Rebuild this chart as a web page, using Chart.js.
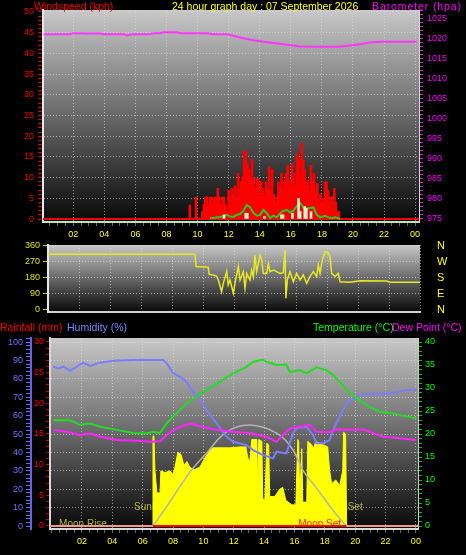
<!DOCTYPE html>
<html>
<head>
<meta charset="utf-8">
<title>24 hour graph</title>
<script src="https://cdn.jsdelivr.net/npm/chart.js@4.4.1/dist/chart.umd.min.js"></script>
<style>
  html, body { margin: 0; padding: 0; background: #000; }
  body { position: relative; width: 466px; height: 555px; overflow: hidden; font-family: "Liberation Sans", Arial, sans-serif; }
  canvas { position: absolute; left: 0; }
  .title { position: absolute; font-size: 10.5px; line-height: 12px; white-space: nowrap; }
</style>
</head>
<body>
<canvas id="windChart" width="466" height="240" style="top:0"></canvas>
<canvas id="dirChart" width="466" height="90" style="top:235px"></canvas>
<canvas id="tempChart" width="466" height="235" style="top:320px"></canvas>

<div class="title" style="left:34px; top:0; color:#ff0000">Windspeed (kph)</div>
<div class="title" style="left:172px; top:0; color:#ffff00">24 hour graph day : 07 September 2026</div>
<div class="title" style="left:372px; top:0; color:#ff00ff; letter-spacing:0.9px">Barometer (hpa)</div>
<div class="title" style="left:0; top:321px; color:#ff0000">Rainfall (mm)</div>
<div class="title" style="left:67px; top:321px; color:#8080ff">Humidity (%)</div>
<div class="title" style="left:313px; top:321px; color:#00ff00">Temperature (°C)</div>
<div class="title" style="left:392px; top:321px; color:#ff00ff">Dew Point (°C)</div>

<script>
// ---------- top panel: wind speed + barometer ----------
const baroHours  = [0.09, 1.8, 2.0, 2.87, 3.73, 3.95, 5.23, 5.45, 5.87, 6.95, 7.16, 7.59, 7.8, 8.66, 8.88, 10.6, 11.02, 11.88, 12.31, 12.74, 13.38, 14.02, 14.67, 15.52, 16.17, 16.6, 17.67, 18.74, 19.17, 19.81, 20.46, 21.1, 21.74, 23.03, 24.1];
const baroValues = [1021.17, 1021.17, 1021.42, 1021.33, 1021.33, 1021.17, 1021.17, 1020.83, 1021.17, 1021.17, 1021.42, 1021.42, 1021.67, 1021.67, 1021.42, 1021.42, 1021.17, 1021.17, 1020.75, 1020.33, 1019.75, 1019.42, 1019.08, 1018.67, 1018.33, 1018.08, 1018.0, 1018.0, 1018.08, 1018.33, 1018.67, 1019.08, 1019.25, 1019.25, 1019.25];

// gusts, one bar every 6 minutes from 09:30
const gustStart = 9.5;
const gustStep = 0.1;
const gustValues = [
  3.4, 0, 0, 0, 5.3,
  0, 0, 0, 1.8, 3.5, 5.3, 5.3, 3.5, 5.3, 5.3,
  3.5, 5.3, 5.3, 7.4, 5.3, 3.5, 5.3, 5.3, 3.5, 1.8,
  7.0, 5.3, 7.4, 6.0, 8.0, 5.3, 11.0, 7.4, 9.0, 10.2,
  16.5, 16.3, 13.4, 12.0, 9.8, 14.4, 9.8, 7.4, 9.8, 9.8,
  5.8, 9.0, 7.4, 5.8, 9.0, 7.4, 12.6, 7.0, 12.0, 6.0,
  4.0, 5.4, 9.0, 8.0, 11.0, 7.0, 9.4, 11.0, 13.0, 8.0,
  9.5, 13.4, 11.0, 8.0, 16.0, 14.7, 10.0, 18.3, 14.2, 11.8,
  8.0, 9.4, 7.0, 13.0, 9.0, 11.0, 7.0, 8.6, 5.0, 6.0,
  3.8, 5.0, 9.0, 9.0, 7.0, 4.0, 5.4, 3.0, 7.4, 4.0,
  1.8, 1.8
];
const avgHours  = [10.8, 11.13, 11.45, 11.66, 11.88, 12.09, 12.31, 12.52, 12.74, 12.95, 13.17, 13.38, 13.59, 13.81, 14.02, 14.24, 14.45, 14.67, 14.88, 15.1, 15.42, 15.74, 15.95, 16.17, 16.38, 16.6, 16.7, 16.92, 17.13, 17.45, 17.67, 17.88, 18.2, 18.42, 18.64, 18.85, 19.06, 19.17];
const avgValues = [0.2, 0.3, 0.5, 0.7, 1.0, 0.6, 0.5, 1.0, 1.2, 2.0, 3.4, 2.8, 1.5, 0.8, 1.0, 2.2, 1.4, 0.2, 0.8, 0.4, 1.8, 2.2, 1.6, 2.0, 3.1, 3.8, 3.4, 2.2, 2.6, 2.8, 1.0, 0.4, 0.8, 0.4, 0.2, 0.4, 0.2, 0];
const lullHours  = [11.7, 13.1, 13.2, 14.3, 15.4, 15.5, 16.1, 16.5, 16.6, 16.9, 17.0, 17.3];
const lullValues = [1.0, 1.4, 1.4, 0.6, 1.0, 1.0, 1.4, 5.0, 1.8, 3.0, 2.6, 1.8];
const calmHours  = [0, 24.25];
const calmValues = [0, 0];

// ---------- middle panel: wind direction ----------
const dirHours  = [0, 9.48, 9.55, 10.34, 10.4, 10.67, 10.88, 10.99, 11.2, 11.31, 11.53, 11.63, 11.74, 11.96, 12.06, 12.28, 12.39, 12.6, 12.71, 12.82, 13.03, 13.14, 13.25, 13.35, 13.46, 13.68, 13.79, 13.89, 14.11, 14.22, 14.32, 14.54, 14.75, 14.97, 15.18, 15.29, 15.35, 15.44, 15.61, 15.83, 16.04, 16.26, 16.47, 16.69, 16.9, 17.12, 17.33, 17.44, 17.55, 17.66, 17.76, 17.87, 18.09, 18.19, 18.3, 18.52, 18.73, 18.84, 19.48, 20.13, 21.85, 22.06, 24];
const dirValues = [313, 313, 244, 240, 200, 197, 190, 169, 103, 150, 219, 141, 169, 94, 150, 244, 169, 216, 122, 206, 169, 225, 188, 309, 216, 309, 281, 206, 206, 262, 216, 225, 216, 206, 210, 337, 66, 169, 216, 159, 206, 169, 197, 150, 188, 216, 188, 253, 206, 262, 300, 328, 322, 300, 206, 188, 206, 159, 156, 165, 163, 156, 156];
const compassLabels = { 0: 'N', 90: 'E', 180: 'S', 270: 'W', 360: 'N' };

// ---------- bottom panel: rain, humidity, temperature, dew point, sun ----------
const humHours  = [0.1, 0.45, 0.8, 1.22, 1.66, 2.09, 2.53, 3.19, 4.07, 5.38, 7.36, 7.58, 8.01, 8.45, 8.89, 9.22, 9.77, 10.21, 10.87, 11.53, 11.96, 12.84, 13.28, 13.93, 14.59, 14.82, 15.47, 15.69, 15.91, 16.13, 16.79, 17.22, 17.45, 17.88, 18.32, 18.54, 18.98, 19.42, 19.86, 20.3, 20.95, 21.61, 22.27, 22.93, 23.37, 24.03];
const humValues = [86.6, 85.7, 86.6, 84.4, 86.6, 88.8, 87, 88.8, 89.8, 90.2, 90.2, 88.5, 83, 81.2, 78.4, 74, 68.5, 63, 55.8, 48.5, 45.8, 44, 41.3, 38.6, 36.8, 40.4, 39.5, 45, 50.4, 53.1, 54, 49.5, 45, 45, 46.7, 52, 59.4, 66.7, 69.4, 71.2, 71.7, 72, 72, 73, 74, 74];
const tempHours  = [0.12, 1.22, 1.88, 2.53, 3.19, 4.29, 5.38, 6.26, 6.7, 7.14, 7.58, 8.23, 8.89, 9.55, 10.21, 11.09, 11.96, 12.84, 13.28, 13.93, 14.15, 14.82, 15.47, 15.69, 16.35, 16.79, 17.45, 18.1, 18.54, 18.98, 19.42, 20.08, 20.74, 21.61, 22.27, 22.93, 24.03];
const tempValues = [23, 23, 22, 22.3, 21.6, 20.9, 20.2, 20.1, 20.5, 20.2, 22.3, 24.5, 26.7, 28.1, 29.6, 31.4, 33.2, 34.6, 35.7, 36.2, 35.7, 35, 35.1, 33.5, 33.9, 33.2, 34.5, 33.9, 32.8, 31.4, 29.6, 27.8, 26.3, 24.8, 24.6, 24.1, 23.4];
const dewHours  = [0.12, 1.0, 1.88, 2.53, 3.19, 4.29, 5.38, 6.48, 7.14, 7.58, 8.23, 9.11, 9.77, 10.87, 11.96, 13.06, 14.15, 14.82, 15.25, 15.69, 16.35, 17.0, 17.45, 18.32, 18.76, 19.64, 20.52, 20.95, 21.83, 22.93, 24.03];
const dewValues = [20.9, 20.5, 19.8, 20.1, 19.4, 18.7, 18.6, 18.3, 18.4, 19.8, 21.2, 22.3, 21.7, 20.9, 20.5, 20.2, 19.4, 18.3, 19.8, 21.2, 21.6, 22, 20.5, 20.4, 21, 20.9, 21, 20.5, 19.4, 19.1, 18.7];
const rainHours  = [-0.1, 6.68, 19.42, 24.14];
const rainValues = [0, 0, 0, 0];

// solar radiation (W/m2) and the clear sky curve
const solarHours  = [6.64, 6.68, 6.74, 6.81, 6.94, 7.14, 7.2, 7.47, 7.8, 8.0, 8.13, 8.32, 8.52, 8.72, 8.91, 9.11, 9.38, 9.77, 10.1, 10.43, 10.63, 11.74, 12.4, 12.8, 12.93, 13.06, 13.19, 13.52, 13.59, 13.65, 13.85, 13.91, 14.05, 14.18, 14.3, 14.37, 14.7, 15.03, 15.23, 15.43, 15.82, 16.09, 16.22, 16.28, 16.35, 16.48, 16.55, 16.81, 16.88, 17.14, 17.27, 17.4, 17.66, 17.93, 18.19, 18.32, 18.45, 18.72, 18.98, 19.18, 19.24, 19.37, 19.44];
const solarValues = [0, 489, 489, 300, 180, 180, 300, 290, 300, 280, 320, 400, 390, 330, 350, 320, 305, 320, 370, 410, 425, 425, 430, 430, 370, 350, 470, 470, 170, 470, 460, 150, 140, 450, 440, 160, 160, 200, 210, 140, 115, 115, 470, 460, 150, 420, 130, 130, 460, 440, 420, 460, 450, 440, 430, 300, 230, 250, 220, 300, 510, 500, 0];
const clearSkyHours  = [6.68, 7.58, 8.45, 9.22, 10.21, 11.53, 13.06, 14.82, 15.91, 16.55, 17.45, 18.52, 19.42];
const clearSkyValues = [0, 105, 214, 304, 396, 512, 549, 505, 413, 304, 207, 87, 0];

const sunRiseHour = 6.68;
const sunSetHour = 19.42;
const moonRiseHour = 2.07;
const moonSetHour = 17.66;

// ---------- shared bits ----------
const FONT = '"Liberation Sans", Arial, sans-serif';
const GRID = 'rgba(225,225,225,0.6)';
const CLEAR = 'rgba(0,0,0,0)';

const pts = (xs, ys) => xs.map((x, i) => ({ x, y: ys[i] }));
const hourLabel = v => (v > 0 && v % 2 === 0) ? String(v % 24).padStart(2, '0') : '';

const panelBg = {
  id: 'panelBg',
  beforeDraw(chart) {
    const { ctx, chartArea: a } = chart;
    const g = ctx.createLinearGradient(0, a.top, 0, a.bottom);
    g.addColorStop(0, '#c8c8c8');
    g.addColorStop(1, '#080808');
    ctx.save();
    ctx.fillStyle = g;
    ctx.fillRect(a.left, a.top, a.right - a.left, a.bottom - a.top);
    ctx.restore();
  }
};

// sun labels sit under the solar area, moon labels over it (but under the rain line)
const eventLabels = {
  id: 'eventLabels',
  beforeDatasetsDraw(chart) {
    const { ctx, chartArea: a, scales: { x } } = chart;
    ctx.save();
    ctx.font = '10px ' + FONT;
    ctx.textAlign = 'center';
    ctx.textBaseline = 'middle';
    ctx.fillStyle = '#b4b43a';
    ctx.fillText('SunRise', x.getPixelForValue(sunRiseHour), a.bottom - 22);
    ctx.fillText('SunSet', x.getPixelForValue(sunSetHour), a.bottom - 22);
    ctx.restore();
  },
  afterDatasetDraw(chart, args) {
    if (chart.data.datasets[args.index].label !== 'Solar') return;
    const { ctx, chartArea: a, scales: { x } } = chart;
    ctx.save();
    ctx.font = '10px ' + FONT;
    ctx.textAlign = 'center';
    ctx.textBaseline = 'middle';
    ctx.fillStyle = '#b4b43a';
    ctx.fillText('Moon Rise', x.getPixelForValue(moonRiseHour), a.bottom - 5);
    ctx.fillStyle = '#ff2020';
    ctx.fillText('Moon Set', x.getPixelForValue(moonSetHour), a.bottom - 5);
    ctx.restore();
  }
};

function timeAxis(min, max, showLabels, height, borderColor) {
  return {
    type: 'linear', min, max, offset: false,
    afterFit: s => { s.height = height; },
    ticks: {
      display: showLabels, stepSize: 0.5, includeBounds: false, autoSkip: false, maxRotation: 0, minRotation: 0,
      color: '#ffff00', font: { family: FONT, size: 9 }, padding: 3, callback: hourLabel
    },
    grid: {
      offset: false,
      color: c => (c.tick && c.tick.value > 0 && c.tick.value % 2 === 0) ? GRID : CLEAR,
      drawTicks: showLabels, tickLength: 4, tickColor: '#5a6a7a'
    },
    border: { color: borderColor, width: 2, dash: [1, 2] }
  };
}

function minorAxis(o) {
  return {
    position: o.position, weight: o.weight || 0, min: o.min, max: o.max,
    afterFit: s => { s.width = o.width; },
    ticks: {
      stepSize: o.step, includeBounds: false, autoSkip: false, color: o.color,
      font: { family: FONT, size: o.fontSize || 9 }, padding: o.padding,
      callback: o.label || (v => v % o.major === 0 ? String(v) : '')
    },
    grid: {
      drawOnChartArea: !!o.grid,
      color: c => (o.grid && c.tick && c.tick.value > 0 && c.tick.value % o.major === 0) ? GRID : CLEAR,
      drawTicks: o.tickLength > 0, tickLength: o.tickLength, tickColor: o.tickColor
    },
    border: o.border ? { color: o.border, width: o.borderWidth || 2, dash: [1, 2] } : { display: false, dash: [1, 2] }
  };
}

const common = {
  responsive: false,
  devicePixelRatio: 1,
  animation: false,
  plugins: { legend: { display: false }, tooltip: { enabled: false } },
  elements: { point: { radius: 0 }, line: { tension: 0 } }
};

// ---------- top chart ----------
new Chart(document.getElementById('windChart'), {
  type: 'line',
  data: {
    datasets: [
      { label: 'Barometer', yAxisID: 'yBaro', data: pts(baroHours, baroValues), borderColor: '#ff33ff', borderWidth: 2, order: 0 },
      { label: 'Lull', type: 'bar', data: pts(lullHours, lullValues), backgroundColor: '#d8f0d0', barThickness: 2, grouped: false, order: 1 },
      { label: 'Average speed', data: pts(avgHours, avgValues), borderColor: '#22cc22', borderWidth: 2, order: 2 },
      { label: 'Calm', data: pts(calmHours, calmValues), borderColor: '#ff0000', borderWidth: 2, order: 3 },
      { label: 'Gust', type: 'bar', data: gustValues.map((v, i) => ({ x: Math.round((gustStart + i * gustStep) * 10) / 10, y: v })), backgroundColor: '#ff0000', barThickness: 2, grouped: false, order: 4 }
    ]
  },
  options: {
    ...common,
    layout: { padding: { top: 10, left: 0, right: 0, bottom: 0 } },
    scales: {
      x: timeAxis(0.05, 24.25, true, 18, '#b8e8b0'),
      y: minorAxis({ position: 'left', min: -0.72, max: 50.48, width: 43, step: 1, major: 5, color: '#ff0000', padding: 4, tickLength: 5, tickColor: '#cc0000', grid: true, border: '#e8e8e8' }),
      yBaro: minorAxis({ position: 'right', min: 974.25, max: 1027.2, width: 47, step: 1, major: 5, color: '#ff00ff', padding: 4, tickLength: 4, tickColor: '#d020d0', border: '#d8d8d8', borderWidth: 1 })
    }
  },
  plugins: [panelBg]
});

// ---------- middle chart ----------
new Chart(document.getElementById('dirChart'), {
  type: 'line',
  data: {
    datasets: [
      { label: 'Wind direction', data: pts(dirHours, dirValues), borderColor: '#e8e820', borderWidth: 1.5 }
    ]
  },
  options: {
    ...common,
    layout: { padding: { top: 10, left: 0, right: 0, bottom: 0 } },
    scales: {
      x: timeAxis(0, 24, false, 13, '#d0d0d0'),
      y: minorAxis({ position: 'left', min: -11.25, max: 365.6, width: 48, step: 90, major: 90, color: '#e0e000', padding: 3, tickLength: 5, tickColor: '#d0d000', grid: true, border: '#e8e8e8' }),
      yCompass: minorAxis({ position: 'right', min: -11.25, max: 365.6, width: 46, step: 90, major: 90, color: '#ffff00', fontSize: 11, padding: 2, tickLength: 15, tickColor: CLEAR, label: v => compassLabels[v] || '' })
    }
  },
  plugins: [panelBg]
});

// ---------- bottom chart ----------
const rainSegment = c => (c.p0.parsed.x >= sunRiseHour - 0.01 && c.p1.parsed.x <= sunSetHour + 0.01) ? '#ff0000' : '#f49a7a';

new Chart(document.getElementById('tempChart'), {
  type: 'line',
  data: {
    datasets: [
      { label: 'Rainfall', yAxisID: 'yRain', data: pts(rainHours, rainValues), borderColor: '#ff0000', segment: { borderColor: rainSegment }, borderWidth: 2, order: 0 },
      { label: 'Dew Point', yAxisID: 'yTemp', data: pts(dewHours, dewValues), borderColor: '#ff22ff', borderWidth: 2, order: 1 },
      { label: 'Temperature', yAxisID: 'yTemp', data: pts(tempHours, tempValues), borderColor: '#22dd22', borderWidth: 2, order: 2 },
      { label: 'Humidity', yAxisID: 'yHum', data: pts(humHours, humValues), borderColor: '#7c7cff', borderWidth: 2, order: 3 },
      { label: 'Clear sky', yAxisID: 'ySolar', data: pts(clearSkyHours, clearSkyValues), borderColor: '#b4b4b4', borderWidth: 1.5, tension: 0.4, order: 5 },
      { label: 'Solar', yAxisID: 'ySolar', data: pts(solarHours, solarValues), borderColor: '#ffff00', backgroundColor: '#ffff00', borderWidth: 1, fill: 'origin', order: 10 }
    ]
  },
  options: {
    ...common,
    layout: { padding: { top: 18, left: 0, right: 0, bottom: 0 } },
    scales: {
      x: timeAxis(-0.105, 24.14, true, 26, '#d8d8d8'),
      yHum: minorAxis({ position: 'left', weight: 1, min: -1.6, max: 102.2, width: 31, step: 2, major: 10, color: '#7070ff', padding: 3, tickLength: 5, tickColor: '#6a6aee', grid: true, border: '#6464e6' }),
      yRain: minorAxis({ position: 'left', weight: 0, min: -0.49, max: 30.65, width: 19, step: 1, major: 5, color: '#ff0000', padding: 2, tickLength: 4, tickColor: '#cc0000', border: '#d8d8d8' }),
      yTemp: minorAxis({ position: 'right', min: -0.65, max: 40.87, width: 48, step: 1, major: 5, color: '#00ff00', padding: 3, tickLength: 4, tickColor: '#00c000', border: '#c8c8c8', borderWidth: 1 }),
      ySolar: { display: false, min: -16.3, max: 1021.7 }
    }
  },
  plugins: [panelBg, eventLabels]
});
</script>
</body>
</html>
